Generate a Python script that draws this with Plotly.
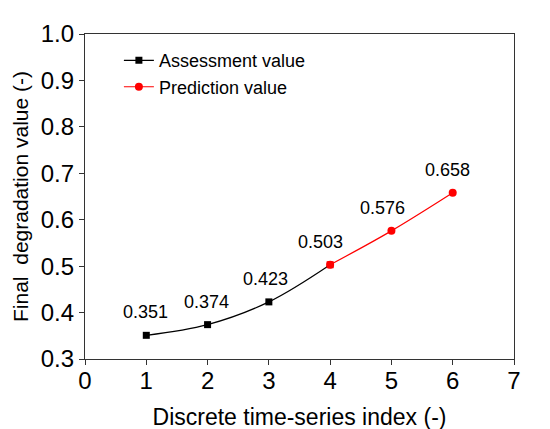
import plotly.graph_objects as go

# data
assess_x = [1, 2, 3, 4]
assess_y = [0.351, 0.374, 0.423, 0.503]
pred_x = [4, 5, 6]
pred_y = [0.503, 0.576, 0.658]
label_x = [1, 2, 3, 4, 5, 6]
label_y = [0.351, 0.374, 0.423, 0.503, 0.576, 0.658]
label_txt = ["0.351", "0.374", "0.423", "0.503", "0.576", "0.658"]
label_dx = [-1, -1, -3, -10, -9, -5]

FONT = "Liberation Sans, Arial, sans-serif"

fig = go.Figure()

# prediction drawn first so the square at x=4 sits on top
fig.add_trace(go.Scatter(x=pred_x, y=pred_y, mode='lines+markers', name='Prediction value',
                         line=dict(color='#ff0000', width=1.2, shape='spline'),
                         marker=dict(symbol='circle', size=8, color='#ff0000'),
                         legendrank=2))
fig.add_trace(go.Scatter(x=assess_x, y=assess_y, mode='lines+markers', name='Assessment value',
                         line=dict(color='black', width=1.2, shape='spline'),
                         marker=dict(symbol='square', size=7,
                                     color=['black', 'black', 'black', '#ff0000']),
                         legendrank=1))

for x, y, t, dx in zip(label_x, label_y, label_txt, label_dx):
    fig.add_annotation(x=x, y=y, text=t, showarrow=False, xshift=dx, yshift=23,
                       font=dict(size=18, color='black', family=FONT))

axis_common = dict(showline=True, linecolor='#333333', linewidth=1.2, mirror=True,
                   ticks='outside', ticklen=5, tickcolor='#333333', showgrid=False,
                   zeroline=False, tickfont=dict(size=24, color='black', family=FONT))

fig.update_xaxes(range=[0, 7], dtick=1, ticklabelstandoff=-5, **axis_common,
                 title=dict(text='Discrete time-series index (-)', standoff=15,
                            font=dict(size=23, color='black', family=FONT)))
fig.update_yaxes(range=[0.3, 1.0], dtick=0.1, tickformat='.1f', **axis_common,
                 title=dict(text='Final\u00a0 degradation value (-)', standoff=6,
                            font=dict(size=21, color='black', family=FONT)))

fig.update_layout(width=550, height=429, plot_bgcolor='white', paper_bgcolor='white',
                  margin=dict(l=77, r=44, t=21, b=69),
                  legend=dict(x=0.079, y=0.975, xanchor='left', yanchor='top',
                              bgcolor='rgba(0,0,0,0)', tracegroupgap=0,
                              font=dict(size=18, color='black', family=FONT)))

fig.write_html("out.html")
